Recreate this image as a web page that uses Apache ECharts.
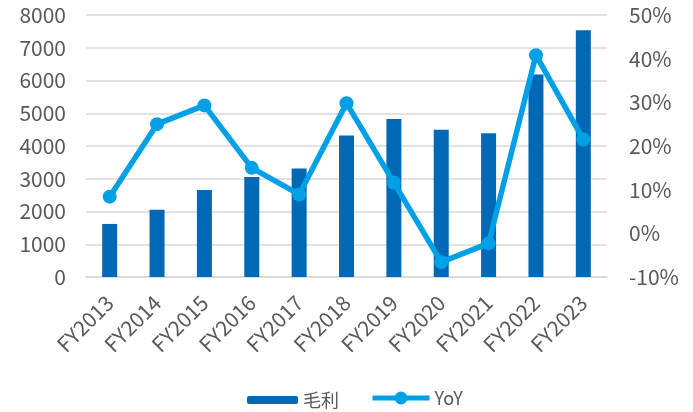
<!DOCTYPE html>
<html>
<head>
<meta charset="utf-8">
<script src="https://cdn.jsdelivr.net/npm/echarts@6/dist/echarts.min.js"></script>
<style>html,body{margin:0;padding:0;background:#fff;}#c{width:693px;height:412px;}</style>
</head>
<body>
<div id="c"></div>
<script>
var categories = ['FY2013','FY2014','FY2015','FY2016','FY2017','FY2018','FY2019','FY2020','FY2021','FY2022','FY2023'];
var grossProfit = [1620, 2050, 2660, 3050, 3310, 4320, 4825, 4500, 4390, 6180, 7535];
var yoy = [8.4, 25.0, 29.3, 15.0, 8.9, 29.8, 11.6, -6.6, -2.3, 40.8, 21.5];
var leftTicks = {min: 0, max: 8000, interval: 1000};
var rightTicks = {min: -10, max: 50, interval: 10};

var textColor = '#595959';
var gridColor = '#d9d9d9';
var fontFam = '"Noto Sans CJK SC", "Liberation Sans", sans-serif';

var chart = echarts.init(document.getElementById('c'));
chart.setOption({
  animation: false,
  backgroundColor: '#fff',
  grid: {left: 86, right: 86, top: 15, bottom: 135},
  legend: [
    {data: ['毛利'], left: 242, top: 386, itemWidth: 51, itemHeight: 8, itemGap: 6,
     textStyle: {color: textColor, fontSize: 18, fontFamily: fontFam}},
    {data: ['YoY'], left: 365, top: 384, itemWidth: 57, itemHeight: 16, itemGap: 4,
     lineStyle: {width: 5, color: '#00A0E6'},
     textStyle: {color: textColor, fontSize: 18, fontFamily: fontFam}}
  ],
  xAxis: {
    type: 'category', data: categories,
    axisLine: {show: true, lineStyle: {color: gridColor, width: 1.5}},
    axisTick: {show: false},
    axisLabel: {rotate: 45, margin: 22, color: textColor, fontSize: 21, fontFamily: fontFam, interval: 0}
  },
  yAxis: [
    {type: 'value', min: leftTicks.min, max: leftTicks.max, interval: leftTicks.interval,
     axisLine: {show: false}, axisTick: {show: false},
     splitLine: {lineStyle: {color: gridColor, width: 1.5}},
     axisLabel: {margin: 20, color: textColor, fontSize: 21, fontFamily: fontFam,
                 formatter: function (v) { return String(v); }}},
    {type: 'value', min: rightTicks.min, max: rightTicks.max, interval: rightTicks.interval,
     axisLine: {show: false}, axisTick: {show: false}, splitLine: {show: false},
     axisLabel: {margin: 22, color: textColor, fontSize: 21, fontFamily: fontFam, formatter: '{value}%'}}
  ],
  series: [
    {name: '毛利', type: 'bar', data: grossProfit, barWidth: 15, yAxisIndex: 0,
     itemStyle: {color: '#0068B5'}},
    {name: 'YoY', type: 'line', data: yoy, yAxisIndex: 1, symbol: 'circle', symbolSize: 14,
     lineStyle: {color: '#00A0E6', width: 5.5}, itemStyle: {color: '#00A0E6'}}
  ]
});
</script>
</body>
</html>
